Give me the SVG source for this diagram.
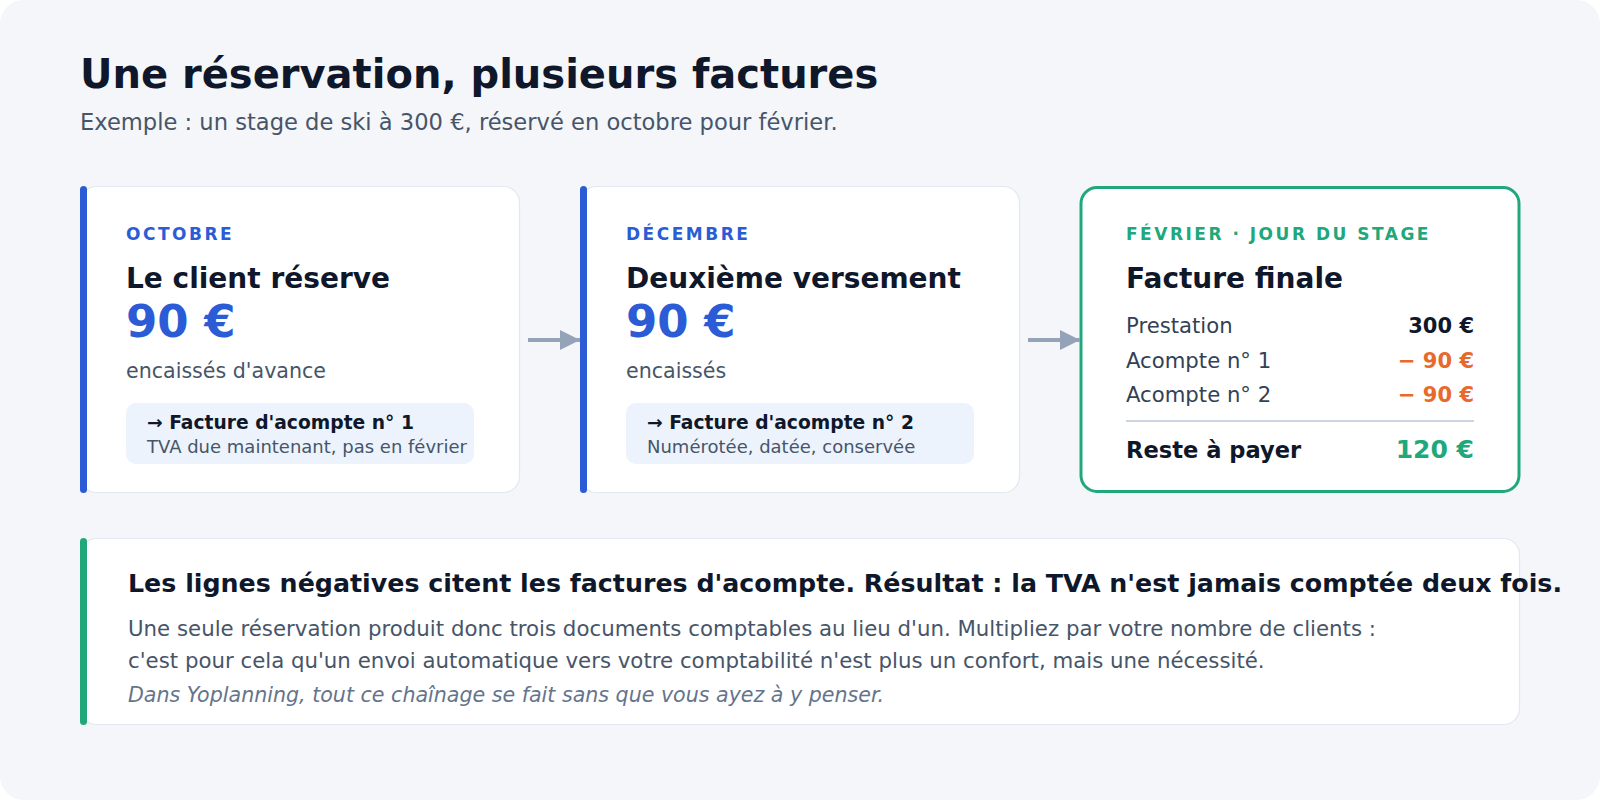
<svg xmlns="http://www.w3.org/2000/svg" width="1600" height="800" viewBox="0 0 1600 800">
  <defs>
    <style>
      text { font-family: "DejaVu Sans", "Noto Sans", sans-serif; }
      .title { font-size: 40px; font-weight: bold; fill: #0f172a; }
      .subtitle { font-size: 22.6px; fill: #475569; }
      .card { fill: #ffffff; stroke: #e2e8f0; stroke-width: 1.2; }
      .bar-blue { fill: #2b5cd6; }
      .bar-green { fill: #20a87a; }
      .label-blue { font-size: 17px; font-weight: bold; fill: #2b5cd6; letter-spacing: 2.5px; }
      .label-green { font-size: 17px; font-weight: bold; fill: #20a87a; letter-spacing: 2.5px; }
      .head { font-size: 28px; font-weight: bold; fill: #0f172a; }
      .amount { font-size: 45px; font-weight: bold; fill: #2b5cd6; }
      .body { font-size: 20.6px; fill: #475569; }
      .note-box { fill: #ecf3fc; }
      .note-title { font-size: 18.7px; font-weight: bold; fill: #0f172a; }
      .note-text { font-size: 18px; fill: #475569; }
      .row { font-size: 21.2px; fill: #334155; }
      .val { font-size: 21px; font-weight: bold; fill: #0f172a; text-anchor: end; }
      .neg { font-size: 21px; font-weight: bold; fill: #e8692c; text-anchor: end; }
      .total-l { font-size: 22.6px; font-weight: bold; fill: #0f172a; }
      .total-v { font-size: 25px; font-weight: bold; fill: #20a87a; text-anchor: end; }
      .conn { stroke: #94a3b8; stroke-width: 4; fill: none; }
      .sum-head { font-size: 25.3px; font-weight: bold; fill: #0f172a; }
      .sum-body { font-size: 21.3px; fill: #475569; }
      .sum-it { font-size: 20.6px; font-style: italic; fill: #64748b; }
    </style>
    <marker id="arrow" viewBox="0 0 20 20" refX="20" refY="10" markerWidth="20" markerHeight="20" markerUnits="userSpaceOnUse" orient="auto">
      <path d="M0,0 L20,10 L0,20 Z" fill="#94a3b8"/>
    </marker>
  </defs>

  <rect x="0" y="0" width="1600" height="800" fill="#ffffff"/>
  <rect x="0" y="0" width="1600" height="800" rx="24" fill="#f4f6fa"/>

  <g id="header">
    <text class="title" x="80" y="88">Une réservation, plusieurs factures</text>
    <text class="subtitle" x="80" y="130">Exemple : un stage de ski à 300 €, réservé en octobre pour février.</text>
  </g>

  <g id="card-octobre">
    <rect class="card" x="80.5" y="186.5" width="439" height="306" rx="16"/>
    <rect class="bar-blue" x="80" y="186" width="7" height="307" rx="3.5"/>
    <text class="label-blue" x="126" y="240">OCTOBRE</text>
    <text class="head" x="126" y="288">Le client réserve</text>
    <text class="amount" x="126" y="337">90 €</text>
    <text class="body" x="126" y="378">encaissés d'avance</text>
    <rect class="note-box" x="126" y="403" width="348" height="61" rx="10"/>
    <text class="note-title" x="147" y="429">→ Facture d'acompte n° 1</text>
    <text class="note-text" x="147" y="453">TVA due maintenant, pas en février</text>
  </g>

  <g id="card-decembre">
    <rect class="card" x="580.5" y="186.5" width="439" height="306" rx="16"/>
    <rect class="bar-blue" x="580" y="186" width="7" height="307" rx="3.5"/>
    <text class="label-blue" x="626" y="240">DÉCEMBRE</text>
    <text class="head" x="626" y="288">Deuxième versement</text>
    <text class="amount" x="626" y="337">90 €</text>
    <text class="body" x="626" y="378">encaissés</text>
    <rect class="note-box" x="626" y="403" width="348" height="61" rx="10"/>
    <text class="note-title" x="647" y="429">→ Facture d'acompte n° 2</text>
    <text class="note-text" x="647" y="453">Numérotée, datée, conservée</text>
  </g>

  <g id="card-fevrier">
    <rect x="1081" y="187.5" width="438" height="304" rx="16" fill="#ffffff" stroke="#20a87a" stroke-width="3"/>
    <text class="label-green" x="1126" y="240">FÉVRIER · JOUR DU STAGE</text>
    <text class="head" x="1126" y="288">Facture finale</text>
    <text class="row" x="1126" y="333">Prestation</text>
    <text class="val" x="1474" y="333">300 €</text>
    <text class="row" x="1126" y="368">Acompte n° 1</text>
    <text class="neg" x="1474" y="368">− 90 €</text>
    <text class="row" x="1126" y="402">Acompte n° 2</text>
    <text class="neg" x="1474" y="402">− 90 €</text>
    <line x1="1126" y1="421" x2="1474" y2="421" stroke="#cbd5e1" stroke-width="2"/>
    <text class="total-l" x="1126" y="458">Reste à payer</text>
    <text class="total-v" x="1474" y="458">120 €</text>
  </g>

  <g id="connectors">
    <line class="conn" x1="528" y1="340" x2="580" y2="340" marker-end="url(#arrow)"/>
    <line class="conn" x1="1028" y1="340" x2="1080" y2="340" marker-end="url(#arrow)"/>
  </g>

  <g id="summary">
    <rect class="card" x="80.5" y="538.5" width="1439" height="186" rx="16"/>
    <rect class="bar-green" x="80" y="538" width="7" height="187" rx="3.5"/>
    <text class="sum-head" x="128" y="592">Les lignes négatives citent les factures d'acompte. Résultat : la TVA n'est jamais comptée deux fois.</text>
    <text class="sum-body" x="128" y="636">Une seule réservation produit donc trois documents comptables au lieu d'un. Multipliez par votre nombre de clients :</text>
    <text class="sum-body" x="128" y="668">c'est pour cela qu'un envoi automatique vers votre comptabilité n'est plus un confort, mais une nécessité.</text>
    <text class="sum-it" x="128" y="702">Dans Yoplanning, tout ce chaînage se fait sans que vous ayez à y penser.</text>
  </g>
</svg>
